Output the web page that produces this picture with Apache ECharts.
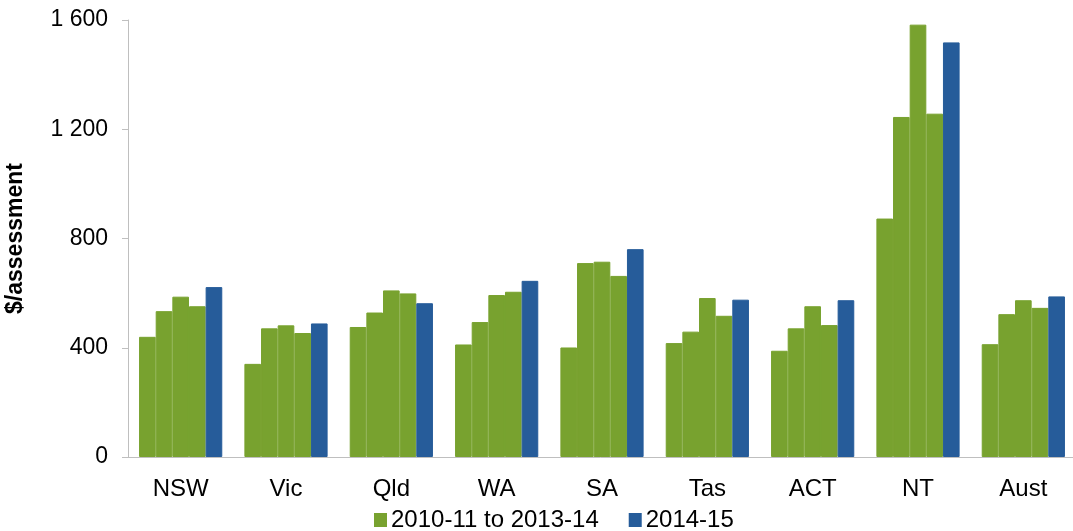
<!DOCTYPE html>
<html>
<head>
<meta charset="utf-8">
<script src="https://cdn.jsdelivr.net/npm/echarts@6/dist/echarts.min.js"></script>
<style>html,body{margin:0;padding:0;background:#fff;}#chart{width:1073px;height:531px;}</style>
</head>
<body>
<div id="chart"></div>
<script>
const categories = ['NSW', 'Vic', 'Qld', 'WA', 'SA', 'Tas', 'ACT', 'NT', 'Aust'];
const y2010_11 = [440, 341, 476, 412, 401, 417, 389, 873, 413];
const y2011_12 = [534, 471, 529, 494, 710, 459, 471, 1245, 523];
const y2012_13 = [587, 482, 610, 593, 715, 582, 552, 1583, 574];
const y2013_14 = [552, 454, 599, 605, 663, 517, 483, 1257, 546];
const y2014_15 = [622, 489, 563, 645, 761, 576, 574, 1518, 588];
const greenName = '2010-11 to 2013-14';
const blueName = '2014-15';
const yTicks = [0, 400, 800, 1200, 1600];

const green = '#78A22F';
const blue = '#265C9A';
const font = '"Liberation Sans", Arial, sans-serif';

function bar(name, data, color) {
  return {
    name: name, type: 'bar', data: data,
    barGap: '0%', barCategoryGap: '21%',
    itemStyle: { color: color, borderColor: color, borderWidth: 1 },
    animation: false
  };
}

const chart = echarts.init(document.getElementById('chart'));
chart.setOption({
  animation: false,
  grid: { left: 128, right: -3, top: 20, bottom: 74, containLabel: false, outerBoundsMode: 'none' },
  legend: {
    data: [greenName, blueName],
    top: 503, left: 369,
    itemWidth: 11, itemHeight: 12, itemGap: 30,
    icon: 'rect',
    textStyle: { fontFamily: font, fontSize: 24, color: '#000', padding: [0, 0, 0, 0] }
  },
  xAxis: {
    type: 'category', data: categories,
    axisLine: { lineStyle: { color: '#BFBFBF', width: 1 } },
    axisTick: { show: false },
    axisLabel: { fontFamily: font, fontSize: 24, color: '#000', margin: 20 }
  },
  yAxis: {
    type: 'value', min: yTicks[0], max: yTicks[yTicks.length - 1], interval: 400,
    name: '$/assessment', nameLocation: 'middle', nameGap: 101,
    nameTextStyle: { fontFamily: font, fontSize: 23, fontWeight: 'bold', color: '#000' },
    axisLine: { show: true, lineStyle: { color: '#BFBFBF', width: 1 } },
    axisTick: { show: true, inside: false, length: 6, lineStyle: { color: '#BFBFBF' } },
    splitLine: { show: false },
    axisLabel: {
      fontFamily: font, fontSize: 23, color: '#000', margin: 20,
      formatter: v => String(v).replace(/\B(?=(\d{3})+(?!\d))/g, ' ')
    }
  },
  series: [
    bar(greenName, y2010_11, green),
    bar(greenName, y2011_12, green),
    bar(greenName, y2012_13, green),
    bar(greenName, y2013_14, green),
    bar(blueName, y2014_15, blue)
  ]
});
</script>
</body>
</html>
